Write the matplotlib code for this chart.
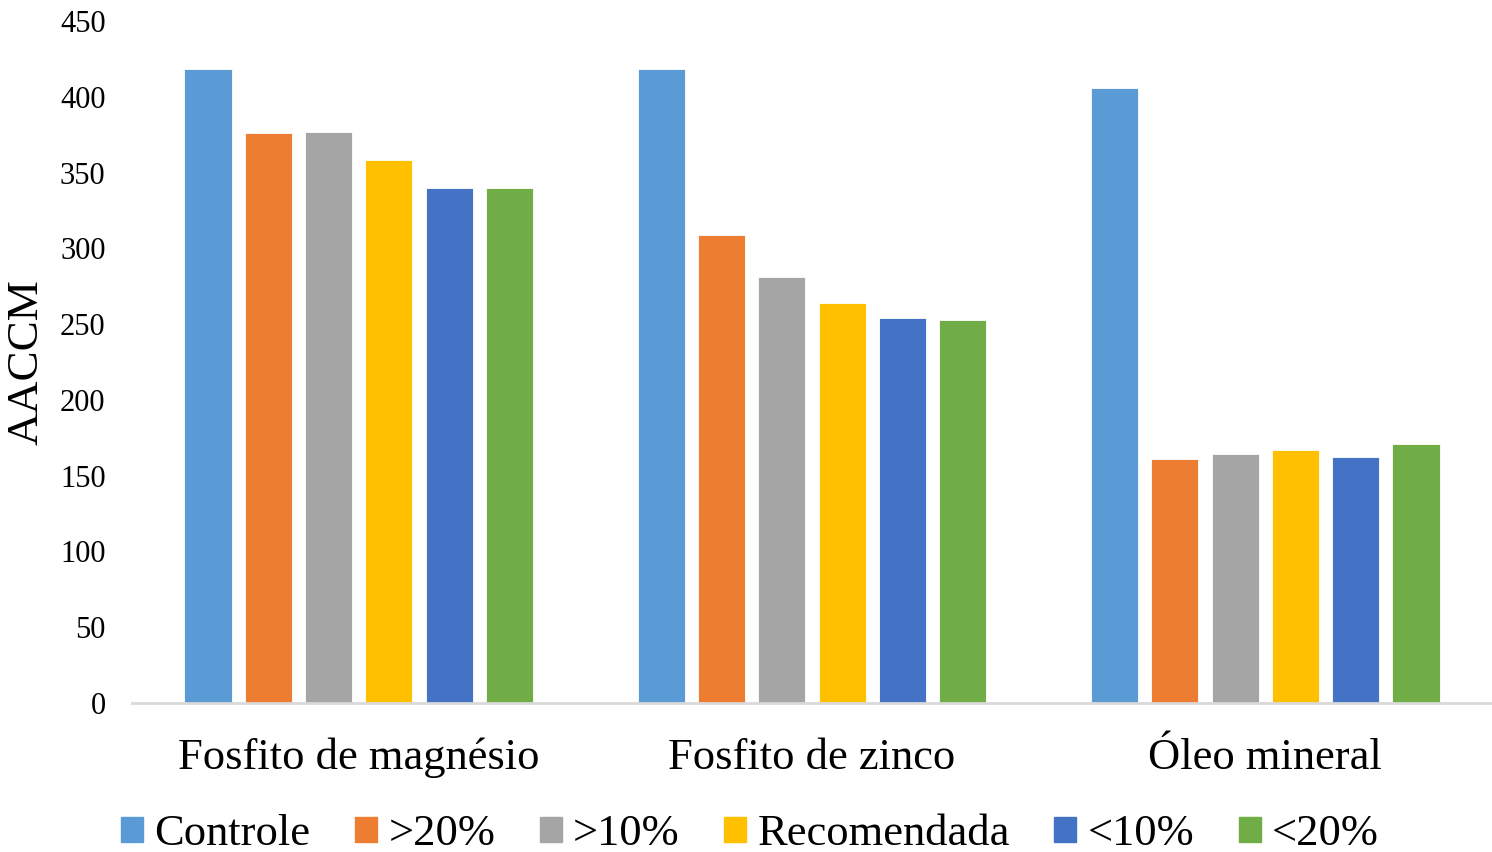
import numpy as np
import matplotlib
matplotlib.use('Agg')
import matplotlib.pyplot as plt
from matplotlib.patches import Patch

plt.rcParams['font.family'] = ['Liberation Serif', 'DejaVu Serif']

categories = ["Fosfito de magnésio", "Fosfito de zinco", "Óleo mineral"]
series = ["Controle", ">20%", ">10%", "Recomendada", "<10%", "<20%"]
colors = ["#5B9BD5", "#ED7D31", "#A5A5A5", "#FFC000", "#4472C4", "#70AD47"]

controle = [418, 418, 406]
acima20 = [376, 309, 161]
acima10 = [377, 281, 164]
recomendada = [358, 264, 167]
abaixo10 = [340, 254, 162]
abaixo20 = [340, 253, 171]
values = [controle, acima20, acima10, recomendada, abaixo10, abaixo20]

fig = plt.figure(figsize=(14.92, 8.52), dpi=100)
ax = fig.add_axes([132 / 1492, 149 / 852, 1 - 132 / 1492, 682 / 852])

x = np.arange(len(categories))
slot = 0.133
width = 0.104
for i, (name, vals) in enumerate(zip(series, values)):
    ax.bar(x + (i - 2.5) * slot, vals, width, color=colors[i], label=name,
           edgecolor='white', linewidth=0.6)

ax.set_xlim(-0.5, 2.5)
ax.set_ylim(0, 450)
ax.set_yticks(range(0, 451, 50))
ax.set_xticks(x)
ax.set_xticklabels(categories, fontsize=32)
ax.tick_params(axis='y', length=0, pad=19, labelsize=22)
ax.tick_params(axis='x', length=0, pad=25)
for s in ['top', 'right', 'left']:
    ax.spines[s].set_visible(False)
ax.spines['bottom'].set_color('#d9d9d9')
ax.spines['bottom'].set_linewidth(2)
ax.set_ylabel("AACCM", fontsize=32.5, labelpad=10)

# legend along the bottom edge, partly cut off as in the original
handles = [Patch(color=c, label=s) for c, s in zip(colors, series)]
fig.legend(handles=handles, loc='center', bbox_to_anchor=(750 / 1492, 18 / 852),
           ncol=6, frameon=False, fontsize=32, handlelength=0.5, handleheight=0.5,
           handletextpad=0.25, columnspacing=1.0, borderpad=0)

fig.savefig('out.png', dpi=100)
